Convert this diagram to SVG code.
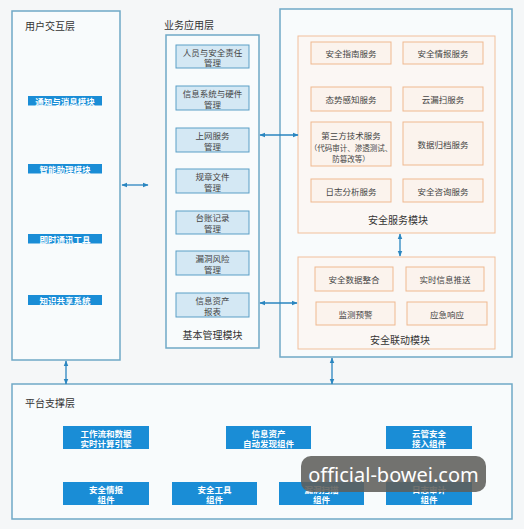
<svg xmlns="http://www.w3.org/2000/svg" width="524" height="529" viewBox="0 0 524 529">
<defs>
<style>
text{font-family:"Noto Sans CJK SC","Noto Sans",sans-serif;text-anchor:middle;dominant-baseline:central}
.panel{fill:#f8fbfc;stroke:#6fa9c6;stroke-width:1.5}
.title{font-size:10px;fill:#333;text-anchor:start}
.blue{fill:#1a8dd6}
.wt{font-size:8.5px;fill:#fff;font-weight:bold}
.mid{fill:#d4e8f4;stroke:#5b9fc6;stroke-width:1}
.mt{font-size:8.5px;fill:#444}
.org{fill:#fbf7f4;stroke:#f1c09b;stroke-width:1}
.ob{fill:#fbf3ed;stroke:#efb98f;stroke-width:1}
.st{font-size:8.5px;fill:#444}
.mod{font-size:10px;fill:#333}
.con{stroke:#2a86c0;stroke-width:1.3;fill:none;marker-start:url(#ah);marker-end:url(#ah)}
</style>
<marker id="ah" viewBox="0 0 10 10" refX="9" refY="5" markerWidth="6" markerHeight="6" orient="auto-start-reverse" markerUnits="userSpaceOnUse">
<path d="M0,1 L10,5 L0,9 z" fill="#2a86c0"/>
</marker>
</defs>
<rect width="524" height="529" fill="#f5f7f8"/>

<g id="user-layer">
<rect class="panel" x="12" y="11" width="108" height="349"/>
<text class="title" x="25" y="25">用户交互层</text>
<rect class="blue" x="28" y="96" width="74" height="9.5"/><text class="wt" x="65" y="100.8">通知与消息模块</text>
<rect class="blue" x="28" y="164" width="74" height="9.5"/><text class="wt" x="65" y="168.8">智能助理模块</text>
<rect class="blue" x="28" y="234" width="74" height="9.5"/><text class="wt" x="65" y="238.8">即时通讯工具</text>
<rect class="blue" x="28" y="295" width="74" height="10"/><text class="wt" x="65" y="300">知识共享系统</text>
</g>

<g id="business-layer">
<text class="title" x="164" y="24">业务应用层</text>
<rect class="panel" x="166" y="35" width="93" height="313"/>
<rect class="mid" x="176" y="45" width="73" height="23"/><text class="mt" x="212.5" y="51.5">人员与安全责任</text><text class="mt" x="212.5" y="62">管理</text>
<rect class="mid" x="176" y="86" width="73" height="24"/><text class="mt" x="212.5" y="92.5">信息系统与硬件</text><text class="mt" x="212.5" y="103.5">管理</text>
<rect class="mid" x="176" y="128" width="73" height="24"/><text class="mt" x="212.5" y="134.5">上网服务</text><text class="mt" x="212.5" y="145.5">管理</text>
<rect class="mid" x="176" y="169" width="73" height="24"/><text class="mt" x="212.5" y="175.5">规章文件</text><text class="mt" x="212.5" y="186.5">管理</text>
<rect class="mid" x="176" y="211" width="73" height="23"/><text class="mt" x="212.5" y="217">台账记录</text><text class="mt" x="212.5" y="228">管理</text>
<rect class="mid" x="176" y="251" width="73" height="24"/><text class="mt" x="212.5" y="257.5">漏洞风险</text><text class="mt" x="212.5" y="268.5">管理</text>
<rect class="mid" x="176" y="293" width="73" height="24"/><text class="mt" x="212.5" y="299.5">信息资产</text><text class="mt" x="212.5" y="310.5">报表</text>
<text class="mod" x="212.5" y="334">基本管理模块</text>
</g>

<g id="security-layer">
<rect class="panel" x="280" y="9" width="232" height="348"/>
</g>

<g id="security-service">
<rect class="org" x="298" y="36" width="197" height="197"/>
<rect class="ob" x="311" y="42" width="80" height="22"/><text class="st" x="351" y="53">安全指南服务</text>
<rect class="ob" x="403" y="42" width="80" height="22"/><text class="st" x="443" y="53">安全情报服务</text>
<rect class="ob" x="311" y="87" width="80" height="24"/><text class="st" x="351" y="99">态势感知服务</text>
<rect class="ob" x="403" y="87" width="80" height="24"/><text class="st" x="443" y="99">云漏扫服务</text>
<rect class="ob" x="311" y="122" width="80" height="44"/><text class="st" x="351" y="135">第三方技术服务</text><text class="st" x="351" y="147" style="font-size:7.5px">（代码审计、渗透测试、</text><text class="st" x="351" y="158" style="font-size:7.5px">防篡改等）</text>
<rect class="ob" x="403" y="122" width="80" height="43"/><text class="st" x="443" y="143.5">数据归档服务</text>
<rect class="ob" x="311" y="179" width="80" height="23"/><text class="st" x="351" y="190.5">日志分析服务</text>
<rect class="ob" x="403" y="179" width="80" height="23"/><text class="st" x="443" y="190.5">安全咨询服务</text>
<text class="mod" x="398" y="219">安全服务模块</text>
</g>

<g id="security-linkage">
<rect class="org" x="298" y="257" width="197" height="92"/>
<rect class="ob" x="315" y="267" width="78" height="24"/><text class="st" x="354" y="279">安全数据整合</text>
<rect class="ob" x="406" y="267" width="78" height="24"/><text class="st" x="445" y="279">实时信息推送</text>
<rect class="ob" x="316" y="302" width="79" height="23"/><text class="st" x="355.5" y="313.5">监测预警</text>
<rect class="ob" x="407" y="302" width="80" height="23"/><text class="st" x="447" y="313.5">应急响应</text>
<text class="mod" x="400" y="339">安全联动模块</text>
</g>

<g id="platform-layer">
<rect class="panel" x="12" y="384" width="500" height="135"/>
<text class="title" x="25" y="402">平台支撑层</text>
<rect class="blue" x="63" y="426" width="86" height="23"/><text class="wt" x="106" y="432.5">工作流和数据</text><text class="wt" x="106" y="443">实时计算引擎</text>
<rect class="blue" x="226" y="426" width="85" height="23"/><text class="wt" x="268.5" y="432.5">信息资产</text><text class="wt" x="268.5" y="443">自动发现组件</text>
<rect class="blue" x="386" y="426" width="86" height="23"/><text class="wt" x="429" y="432.5">云管安全</text><text class="wt" x="429" y="443">接入组件</text>
<rect class="blue" x="63" y="482" width="86" height="23"/><text class="wt" x="106" y="488.5">安全情报</text><text class="wt" x="106" y="499">组件</text>
<rect class="blue" x="172" y="482" width="85" height="23"/><text class="wt" x="214.5" y="488.5">安全工具</text><text class="wt" x="214.5" y="499">组件</text>
<rect class="blue" x="279" y="482" width="85" height="23"/><text class="wt" x="321.5" y="488.5">漏洞扫描</text><text class="wt" x="321.5" y="499">组件</text>
<rect class="blue" x="386" y="482" width="86" height="23"/><text class="wt" x="429" y="488.5">日志审计</text><text class="wt" x="429" y="499">组件</text>
</g>

<g id="connectors">
<line class="con" x1="122" y1="185" x2="148" y2="185"/>
<line class="con" x1="260" y1="135" x2="298" y2="135"/>
<line class="con" x1="260" y1="303" x2="297" y2="303"/>
<line class="con" x1="400" y1="234" x2="400" y2="256"/>
<line class="con" x1="66" y1="361" x2="66" y2="384"/>
<line class="con" x1="332" y1="358" x2="332" y2="384"/>
</g>

<g id="watermark">
<rect x="301" y="456" width="185" height="36" rx="10" fill="#5e5e5b" opacity="0.88"/>
<text x="393.5" y="474" style="font-family:'Noto Sans','Open Sans',sans-serif;font-size:20px;fill:#fff">official-bowei.com</text>
</g>
</svg>
